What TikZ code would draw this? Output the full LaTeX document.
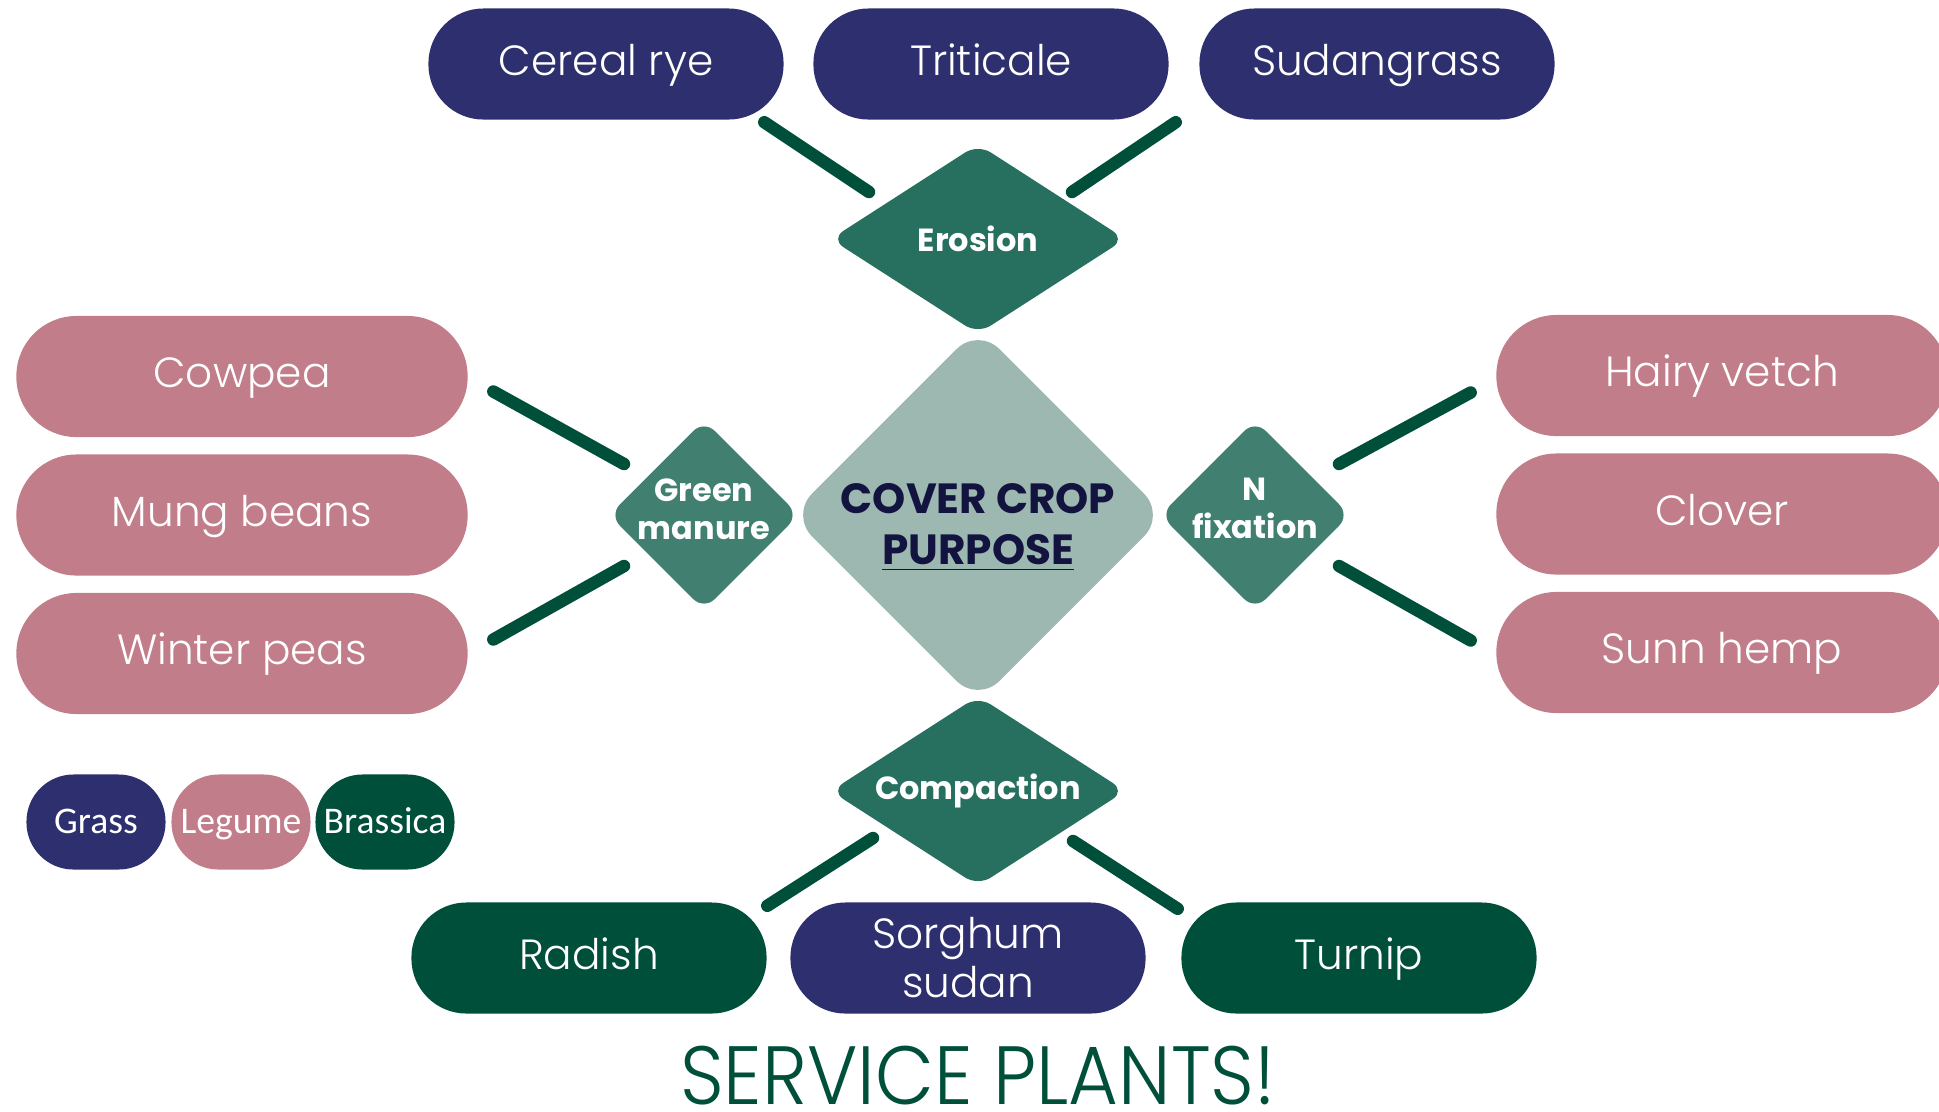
\documentclass[tikz,border=0pt]{standalone}
\usepackage{fontspec}
\setmainfont{Poppins}
\newfontfamily\lightfont{Poppins Light}
\newfontfamily\legendfont{Carlito}
\usepackage{tikz}
\usetikzlibrary{shapes.geometric, positioning, calc}
\definecolor{grassnavy}{HTML}{2E2F6E}
\definecolor{legumepink}{HTML}{C17D89}
\definecolor{brassgreen}{HTML}{004F3A}
\definecolor{purposegreen}{HTML}{276F5F}
\definecolor{sidegreen}{HTML}{418070}
\definecolor{coresage}{HTML}{9CB8B0}
\definecolor{coreink}{HTML}{12133F}

\begin{document}
\begin{tikzpicture}[
  x=0.01cm, y=-0.01cm,
  pill/.style={
    rectangle, rounded corners=0.55cm, text=white, inner sep=0pt,
    minimum width=3.55cm, minimum height=1.11cm, align=center,
    font=\lightfont\fontsize{12}{13}\selectfont,
    text height=0.7em, text depth=0.05em
  },
  grasspill/.style={pill, fill=grassnavy},
  brasspill/.style={pill, fill=brassgreen},
  legumepill/.style={pill, fill=legumepink, minimum width=4.51cm,
    minimum height=1.21cm, rounded corners=0.6cm},
  purposebox/.style={
    diamond, rounded corners=0.15cm, fill=purposegreen, inner sep=0pt,
    minimum width=2.95cm, minimum height=1.90cm
  },
  sidebox/.style={
    diamond, rounded corners=0.15cm, fill=sidegreen, inner sep=0pt,
    minimum width=1.90cm, minimum height=1.90cm
  },
  dlabel/.style={text=white, align=center, inner sep=0pt,
    font=\fontsize{9.1}{10.8}\selectfont\bfseries},
  legendpill/.style={
    rectangle, rounded corners=0.47cm, text=white, inner sep=0pt,
    minimum width=1.39cm, minimum height=0.95cm,
    font=\legendfont\fontsize{10.7}{12}\selectfont,
    text height=0.64em, text depth=0em
  },
  link/.style={draw=brassgreen, line width=0.125cm, line cap=round},
  node distance=0.16cm,
]
\useasboundingbox (0,0) rectangle (1939,1111);

% centre and the four purposes
\node[diamond, rounded corners=0.3cm, fill=coresage, inner sep=0pt,
  minimum width=3.75cm, minimum height=3.75cm,
  label={[text=coreink, align=center, inner sep=0pt, yshift=-3.6pt,
    font=\fontsize{12}{14.5}\selectfont\bfseries]center:COVER CROP\\\underline{PURPOSE}}]
  (core) at (978,515) {};
\node[purposebox, label={[dlabel]center:Erosion}] (erosion) at (978,239) {};
\node[purposebox, label={[dlabel]center:Compaction}] (compact) at (978,791) {};
\node[sidebox, label={[dlabel, yshift=1.5pt]center:Green\\manure}] (greenman) at (704,515) {};
\node[sidebox, label={[dlabel, yshift=2pt]center:N\\fixation}] (nfix) at (1255,515) {};

% top row: grasses
\node[grasspill] (crye) at (606,64) {Cereal rye};
\node[grasspill] (tritic) at (991,64) {Triticale};
\node[grasspill] (sudan) at (1377,64) {Sudangrass};

% left column: legumes
\node[legumepill] (mung) at (242,515) {Mung beans};
\node[legumepill, above=of mung] (cowpea) {Cowpea};
\node[legumepill, below=of mung] (wpeas) {Winter peas};

% right column: legumes
\node[legumepill] (clover) at (1722,514) {Clover};
\node[legumepill, above=of clover] (hvetch) {Hairy vetch};
\node[legumepill, below=of clover] (sunn) {Sunn hemp};

% bottom row
\node[brasspill] (radish) at (589,958) {Radish};
\node[grasspill, font=\lightfont\fontsize{12}{14}\selectfont,
  text height=22.4pt, text depth=0pt] (sorghum) at (968,958) {Sorghum\\sudan};
\node[brasspill] (turnip) at (1359,958) {Turnip};

% legend
\node[legendpill, fill=grassnavy] (lgrass) at (96,822) {Grass};
\node[legendpill, fill=legumepink] (llegume) at (241,822) {Legume};
\node[legendpill, fill=brassgreen] (lbrass) at (385,822) {Brassica};

\node[text=brassgreen, inner sep=0pt, anchor=base,
  font=\lightfont\fontsize{23.5}{26}\selectfont] (title) at (978,1104)
  {\scalebox{0.925}[1]{SERVICE PLANTS!}};

% links
\draw[link] ($(crye.south east)+(-20,2)$) -- ($(erosion)+(-109,-47)$);
\draw[link] ($(sudan.south west)+(-23,2)$) -- ($(erosion)+(94,-47)$);
\draw[link] ($(cowpea.east)+(25,15)$) -- ($(greenman)+(-80,-51)$);
\draw[link] ($(wpeas.east)+(25,-14)$) -- ($(greenman)+(-80,51)$);
\draw[link] ($(nfix)+(84,-51)$) -- ($(hvetch.west)+(-25,17)$);
\draw[link] ($(nfix)+(84,51)$) -- ($(sunn.west)+(-25,-12)$);
\draw[link] ($(compact)+(-105,47)$) -- ($(radish.north east)+(0,4)$);
\draw[link] ($(compact)+(95,50)$) -- ($(turnip.north west)+(-3,7)$);
\end{tikzpicture}
\end{document}
